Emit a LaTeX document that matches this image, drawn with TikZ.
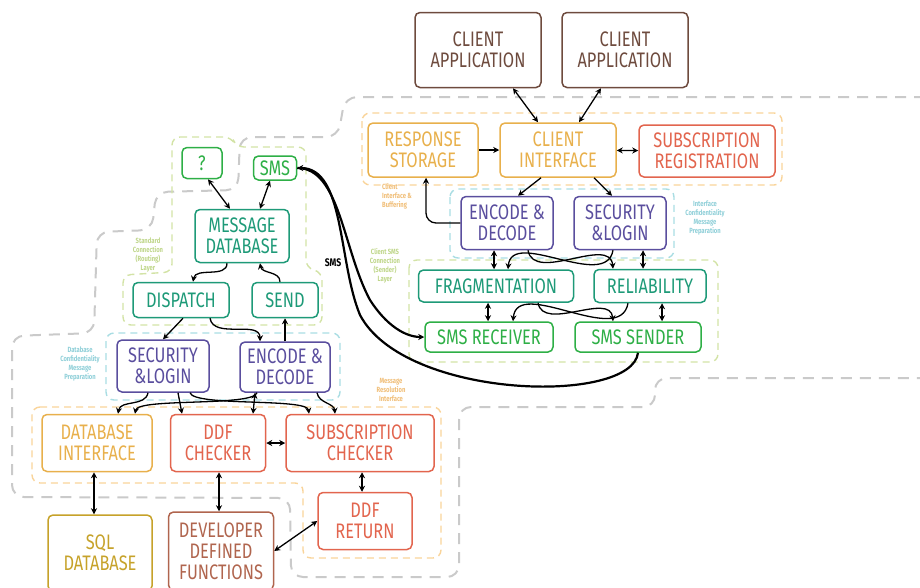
\documentclass[tikz,border=0pt]{standalone}
\usepackage{fontspec}
\setmainfont{Fira Sans}[FakeStretch=0.78]
\usepackage{tikz}
\usetikzlibrary{arrows.meta}

\definecolor{appbrown}{HTML}{6E4B3E}
\definecolor{ifaceorange}{HTML}{E8B04C}
\definecolor{subred}{HTML}{E2654E}
\definecolor{secpurple}{HTML}{5A4E9E}
\definecolor{layerteal}{HTML}{1E9A78}
\definecolor{smsgreen}{HTML}{2EAF46}
\definecolor{sqlyellow}{HTML}{C6A22A}
\definecolor{devbrown}{HTML}{B0654E}
\definecolor{grporange}{HTML}{F9D49A}
\definecolor{grpcyan}{HTML}{A9DDE3}
\definecolor{grpgreen}{HTML}{D3E3A6}
\definecolor{grpgray}{HTML}{CACACA}
\definecolor{noteorange}{HTML}{F0BE78}
\definecolor{notecyan}{HTML}{8FCFD8}
\definecolor{notegreen}{HTML}{BFD68A}

\tikzset{
  box/.style={draw=#1, text=#1, rounded corners=5pt, line width=1.5pt,
    align=center, inner sep=1pt, font=\fontsize{21}{21}\selectfont},
  group/.style={draw=#1, dash pattern=on 7pt off 5pt, line width=1.4pt,
    rounded corners=8pt},
  note/.style={text=#1, align=center, font=\fontsize{7.5}{9}\selectfont\bfseries},
  link/.style={line width=1.3pt},
  smslink/.style={line width=2.2pt}
}

\begin{document}
\begin{tikzpicture}[x=1pt, y=-1pt, >={Stealth[length=6pt,width=6pt]}]
        \useasboundingbox (0,0) rectangle (920,587);

        % regions
        \draw[group=grpgray, line width=2pt, dash pattern=on 11pt off 8pt, rounded corners=12pt]
          (925,97) -- (345,97) -- (338,137) -- (240,137) -- (238,190) -- (156,192)
          -- (152,230) -- (97,232) -- (94,333) -- (12,336) -- (12,497) -- (290,498)
          -- (291,577) -- (459,577) -- (459,407) -- (655,407) -- (655,378) -- (925,378);
        \draw[group=grporange] (362,113) rectangle (782,185);
        \draw[group=grpcyan]   (450,189) rectangle (674,258);
        \draw[group=grpgreen]  (409,260) rectangle (718,362);
        \draw[group=grpgreen]  (172,137) -- (232,137) -- (236,147) -- (306,147) -- (306,268)
          -- (322,272) -- (322,325) -- (123,325) -- (123,275) -- (172,272) -- cycle;
        \draw[group=grpcyan]   (106,333) rectangle (340,400);
        \draw[group=grporange] (32,407) -- (441,407) -- (441,558) -- (303,558) -- (303,483)
          -- (32,483) -- cycle;

        \node[note=noteorange, align=left] (ciNote) at (397,196) {Client\\Interface \&\\Buffering};
        \node[note=notecyan]   (secNote) at (705,218) {Interface\\Confidentiality\\Message\\Preparation};
        \node[note=notegreen]  (smsNote) at (385,266) {Client SMS\\Connection\\(Sender)\\Layer};
        \node[note=notegreen]  (stdNote) at (148,255) {Standard\\Connection\\(Routing)\\Layer};
        \node[note=notecyan]   (dbNote)  at (80,364) {Database\\Confidentiality\\Message\\Preparation};
        \node[note=noteorange] (resNote) at (391,390) {Message\\Resolution\\Interface};
        \node[font=\fontsize{11}{11}\selectfont\bfseries] (smsLbl) at (333,263) {SMS};

        % boxes
        \node[box=appbrown, minimum width=126pt, minimum height=75pt] (app1) at (478,50) {CLIENT\\APPLICATION};
        \node[box=appbrown, minimum width=126pt, minimum height=75pt] (app2) at (625,50) {CLIENT\\APPLICATION};
        \node[box=ifaceorange, minimum width=110pt, minimum height=54pt] (resp) at (423,150) {RESPONSE\\STORAGE};
        \node[box=ifaceorange, minimum width=116pt, minimum height=54pt] (ci) at (558,150) {CLIENT\\INTERFACE};
        \node[box=subred, minimum width=136pt, minimum height=52pt] (subr) at (707,151) {SUBSCRIPTION\\REGISTRATION};
        \node[box=secpurple, minimum width=92pt, minimum height=53pt] (encR) at (507,223) {ENCODE \&\\DECODE};
        \node[box=secpurple, minimum width=92pt, minimum height=53pt] (secR) at (620,223) {SECURITY\\\&LOGIN};
        \node[box=layerteal, minimum width=155pt, minimum height=32pt] (frag) at (496,286) {FRAGMENTATION};
        \node[box=layerteal, minimum width=112pt, minimum height=33pt] (rel) at (650,286) {RELIABILITY};
        \node[box=smsgreen, minimum width=128pt, minimum height=30pt] (smsr) at (489,337) {SMS RECEIVER};
        \node[box=smsgreen, minimum width=126pt, minimum height=30pt] (smss) at (638,337) {SMS SENDER};

        \node[box=smsgreen, minimum width=40pt, minimum height=31pt] (q) at (202,163) {?};
        \node[box=smsgreen, minimum width=43pt, minimum height=24pt] (smsb) at (275,168) {SMS};
        \node[box=layerteal, minimum width=94pt, minimum height=53pt] (md) at (242,236) {MESSAGE\\DATABASE};
        \node[box=layerteal, minimum width=96pt, minimum height=35pt] (disp) at (181,300) {DISPATCH};
        \node[box=layerteal, minimum width=66pt, minimum height=35pt] (send) at (285,300) {SEND};
        \node[box=secpurple, minimum width=92pt, minimum height=52pt] (secL) at (163,366) {SECURITY\\\&LOGIN};
        \node[box=secpurple, minimum width=90pt, minimum height=50pt] (encL) at (285,367) {ENCODE \&\\DECODE};
        \node[box=ifaceorange, minimum width=110pt, minimum height=57pt] (dbi) at (97,443) {DATABASE\\INTERFACE};
        \node[box=subred, minimum width=95pt, minimum height=57pt] (ddfc) at (218,443) {DDF\\CHECKER};
        \node[box=subred, minimum width=148pt, minimum height=57pt] (subc) at (360,443) {SUBSCRIPTION\\CHECKER};
        \node[box=subred, minimum width=94pt, minimum height=57pt] (ddfr) at (365,521) {DDF\\RETURN};
        \node[box=sqlyellow, minimum width=104pt, minimum height=76pt] (sql) at (100,553) {SQL\\DATABASE};
        \node[box=devbrown, minimum width=105pt, minimum height=78pt] (ddf) at (221,551) {DEVELOPER\\DEFINED\\FUNCTIONS};

        % client side
        \draw[link, <->] ([xshift=35pt]app1.south) -- ([xshift=-20pt]ci.north);
        \draw[link, <->] ([xshift=-24pt]app2.south) -- ([xshift=21pt]ci.north);
        \draw[link, ->]  (resp) -- (ci);
        \draw[link, <->] (ci) -- (subr);
        \draw[link, ->]  ([xshift=-17pt]ci.south) -- ([xshift=11pt]encR.north);
        \draw[link, ->]  ([xshift=36pt]ci.south) -- ([xshift=-8pt]secR.north);
        \draw[link, ->, rounded corners=10pt] (encR.west) -| ([xshift=3pt]resp.south);

        \draw[link, <->] ([xshift=-13pt]encR.south) -- ([xshift=-2pt]frag.north);
        \draw[link, ->]  ([xshift=21pt]encR.south) to[out=-80, in=95] ([xshift=-37pt]rel.north);
        \draw[link, ->]  ([xshift=-7pt]secR.south) to[out=-100, in=85] ([xshift=12pt]frag.north);
        \draw[link, <->] ([xshift=23pt]secR.south) -- ([xshift=-7pt]rel.north);
        \draw[link, <->] ([xshift=-8pt]frag.south) -- ([xshift=-1pt]smsr.north);
        \draw[link, ->]  ([xshift=-22pt]rel.south) to[out=-100, in=85] ([xshift=24pt]smsr.north);
        \draw[link, ->]  ([xshift=42pt]frag.south) to[out=-80, in=95] ([xshift=-25pt]smss.north);
        \draw[link, <->] ([xshift=12pt]rel.south) -- ([xshift=24pt]smss.north);

        % sms channel
        \draw[smslink, ->] (smss.south) .. controls (632,405) and (405,400) .. (360,315)
          .. controls (338,262) and (345,168) .. (smsb.east);
        \draw[smslink, ->] (smsb.east) .. controls (340,168) and (343,250) .. (370,300)
          .. controls (386,325) and (405,337) .. (smsr.west);

        % developer side
        \draw[link, <->] ([xshift=6pt]q.south) -- ([xshift=-12pt]md.north);
        \draw[link, <->] ([xshift=-5pt]smsb.south) -- ([xshift=18pt]md.north);
        \draw[link, ->]  ([xshift=-15pt]md.south) to[out=-90, in=80] ([xshift=12pt]disp.north);
        \draw[link, ->]  ([xshift=-5pt]send.north) to[out=90, in=-80] ([xshift=18pt]md.south);
        \draw[link, ->]  ([xshift=2pt]disp.south) -- (secL.north);
        \draw[link, ->]  ([xshift=29pt]disp.south) to[out=-80, in=90] ([xshift=-25pt]encL.north);
        \draw[link, ->]  (encL.north) -- (send.south);

        \draw[link, ->]  ([xshift=-15pt]secL.south) to[out=-100, in=80] ([xshift=21pt]dbi.north);
        \draw[link, ->]  ([xshift=15pt]secL.south) -- ([xshift=-36pt]ddfc.north);
        \draw[link, ->]  ([xshift=27pt]secL.south) .. controls +(4,14) and +(-2,-16) .. ([xshift=-51pt]subc.north);
        \draw[link, ->]  ([xshift=-28pt]encL.south) .. controls +(-4,14) and +(3,-16) .. ([xshift=38pt]dbi.north);
        \draw[link, <->] ([xshift=-30pt]encL.south) -- ([xshift=35pt]ddfc.north);
        \draw[link, ->]  ([xshift=32pt]encL.south) to[out=-80, in=95] ([xshift=-25pt]subc.north);
        \draw[link, <->] (ddfc) -- (subc);

        \draw[link, <->] ([xshift=-3pt]dbi.south) -- ([xshift=-6pt]sql.north);
        \draw[link, <->] ([xshift=1pt]ddfc.south) -- ([xshift=-2pt]ddf.north);
        \draw[link, <->] ([xshift=2pt]subc.south) -- ([xshift=-3pt]ddfr.north);
        \draw[link, <->] (ddfr.west) -- (ddf.east);
      \end{tikzpicture}
\end{document}
